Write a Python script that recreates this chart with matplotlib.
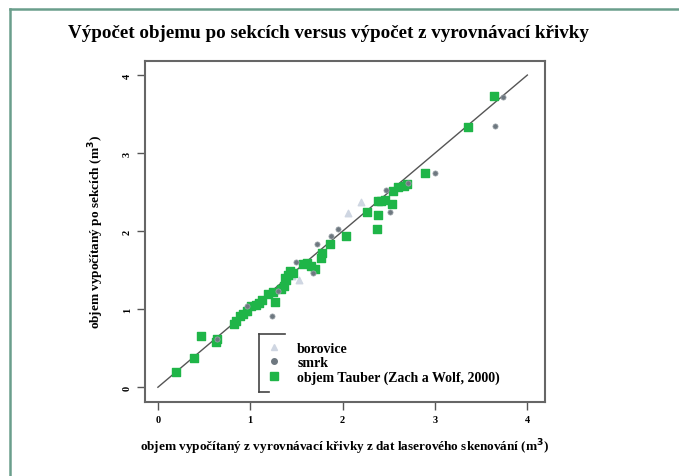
import numpy as np
import matplotlib.pyplot as plt
from matplotlib.lines import Line2D

# data (m3)
tauber_x = [0.20, 0.39, 0.47, 0.63, 0.64, 0.82, 0.85, 0.89, 0.92, 0.96, 1.01, 1.06, 1.09,
            1.13, 1.19, 1.25, 1.27, 1.33, 1.36, 1.39, 1.41, 1.43, 1.46, 1.38, 1.57, 1.61,
            1.66, 1.70, 1.77, 1.78, 1.86, 2.04, 2.26, 2.37, 2.38, 2.38, 2.42, 2.46, 2.54,
            2.55, 2.60, 2.66, 2.70, 2.89, 3.36, 3.64]
tauber_y = [0.20, 0.37, 0.66, 0.58, 0.62, 0.81, 0.85, 0.91, 0.94, 0.98, 1.04, 1.06, 1.08,
            1.12, 1.19, 1.22, 1.09, 1.26, 1.30, 1.38, 1.44, 1.49, 1.47, 1.40, 1.58, 1.59,
            1.55, 1.52, 1.66, 1.72, 1.83, 1.94, 2.24, 2.03, 2.21, 2.38, 2.39, 2.40, 2.35,
            2.52, 2.56, 2.58, 2.60, 2.75, 3.34, 3.73]

smrk_x = [0.64, 0.97, 1.23, 1.30, 1.50, 1.68, 1.72, 1.87, 1.95, 2.47, 2.51, 2.71, 3.00, 3.65, 3.74]
smrk_y = [0.62, 1.04, 0.91, 1.23, 1.60, 1.46, 1.83, 1.94, 2.03, 2.53, 2.24, 2.62, 2.75, 3.35, 3.72]

borovice_x = [0.95, 1.05, 1.45, 1.53, 2.06, 2.20]
borovice_y = [0.97, 1.08, 1.42, 1.38, 2.23, 2.37]

ticks = [0, 1, 2, 3, 4]

plt.rcParams['font.family'] = ['Liberation Serif', 'DejaVu Serif']
plt.rcParams['font.weight'] = 'bold'

fig = plt.figure(figsize=(6.79, 4.77), dpi=100)
ax = fig.add_axes([0.2135, 0.155, 0.589, 0.715])

ax.plot([0, 4], [0, 4], color='#555555', lw=1.0, zorder=1)
ax.scatter(borovice_x, borovice_y, marker='^', s=22, color='#cfd6e2', zorder=2)
ax.scatter(tauber_x, tauber_y, marker='s', s=36, color='#1fb548', zorder=3)
ax.scatter(smrk_x, smrk_y, marker='o', s=14, color='#6e7880', edgecolors='#a0a8ae',
           linewidths=0.5, zorder=4)

ax.set_xlim(-0.14, 4.19)
ax.set_ylim(-0.19, 4.18)
ax.set_xticks(ticks)
ax.set_yticks(ticks)
ax.tick_params(direction='out', length=6, width=1.0, color='#555555', labelsize=7.5)
for lab in ax.get_yticklabels():
    lab.set_rotation(90)
    lab.set_va('center')
for s in ax.spines.values():
    s.set_color('#666666')
    s.set_linewidth(1.5)

ax.set_xlabel('objem vypočítaný z vyrovnávací křivky z dat laserového skenování (m$^3$)',
              fontsize=9.5, fontweight='bold', labelpad=9)
ax.set_ylabel('objem vypočítaný po sekcích (m$^3$)', fontsize=9.5, fontweight='bold', labelpad=12)

fig.text(0.1, 0.93, 'Výpočet objemu po sekcích versus výpočet z vyrovnávací křivky',
         fontsize=13.7, fontweight='bold', ha='left', va='center')

handles = [
    Line2D([], [], ls='none', marker='^', ms=5, color='#cfd6e2'),
    Line2D([], [], ls='none', marker='o', ms=4, color='#6e7880'),
    Line2D([], [], ls='none', marker='s', ms=6, color='#1fb548'),
]
labels = ['borovice', 'smrk', 'objem Tauber (Zach a Wolf, 2000)']
ax.legend(handles, labels, loc='upper left', bbox_to_anchor=(0.28, 0.205),
          frameon=False, fontsize=10, handlelength=1.0, handletextpad=1.2,
          labelspacing=0.1, borderpad=0.2)

# bracket of the legend box
ax.plot([0.285, 0.285], [0.03, 0.2], transform=ax.transAxes, color='#444444', lw=1.2, clip_on=False)
ax.plot([0.285, 0.35], [0.2, 0.2], transform=ax.transAxes, color='#444444', lw=1.2, clip_on=False)
ax.plot([0.285, 0.31], [0.03, 0.03], transform=ax.transAxes, color='#444444', lw=1.2, clip_on=False)

# card border
fig.add_artist(Line2D([10 / 679, 10 / 679], [0, 1 - 10 / 477], color='#6a9e8c', lw=1.8))
fig.add_artist(Line2D([10 / 679, 1], [1 - 10 / 477, 1 - 10 / 477], color='#6a9e8c', lw=1.8))

fig.savefig('out.png', dpi=100)
